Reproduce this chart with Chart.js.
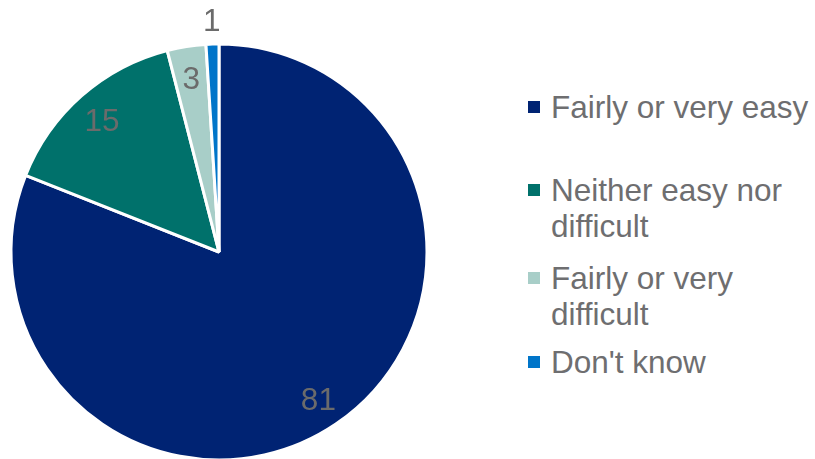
<!DOCTYPE html>
<html>

<head>
    <meta charset="utf-8">
    <title>Ease</title>
    <style>
        html, body { margin: 0; padding: 0; background: #fff; overflow: hidden; }
        body { width: 815px; height: 459px; position: relative; font-family: "Liberation Sans", Arial, sans-serif; }
        #wrap { position: absolute; left: 0; top: 0; width: 438px; height: 504px; }
        #legend { position: absolute; left: 528px; top: 0; }
        .item { position: absolute; left: 0; white-space: nowrap; }
        .box { position: absolute; left: 0; width: 12px; height: 12px; }
        .txt { position: absolute; left: 23px; top: 0; font-size: 31.5px; line-height: 36px; color: #6e6e70; }
    </style>
</head>

<body>
    <div id="wrap"><canvas id="myChart1"></canvas></div>
    <div id="legend"></div>
    <script src="https://cdn.jsdelivr.net/npm/chart.js@4.4.6/dist/chart.umd.min.js"></script>
    <script>
        const categories = ["Fairly or very easy", "Neither easy nor difficult", "Fairly or very difficult", "Don't know"]
        const legendLines = [["Fairly or very easy"], ["Neither easy nor", "difficult"], ["Fairly or very", "difficult"], ["Don't know"]]
        const values = [81, 15, 3, 1]
        const colors = ["#002373", "#00716b", "#a8cec8", "#0075c9"]

        document.addEventListener("DOMContentLoaded", () => {
            // value labels, placed from the arcs the library laid out
            const valueLabels = {
                id: "valueLabels",
                afterDatasetsDraw(chart) {
                    const ctx = chart.ctx
                    const meta = chart.getDatasetMeta(0)
                    ctx.save()
                    ctx.font = "31.5px 'Liberation Sans', Arial, sans-serif"
                    ctx.fillStyle = "#6b6b6b"
                    ctx.textAlign = "center"
                    ctx.textBaseline = "middle"
                    meta.data.forEach((arc, i) => {
                        const p = arc.getProps(["x", "y", "startAngle", "endAngle", "outerRadius"], true)
                        const mid = (p.startAngle + p.endAngle) / 2
                        const k = i === meta.data.length - 1 ? 1.12 : 0.85
                        const r = p.outerRadius * k
                        ctx.fillText(String(chart.data.datasets[0].data[i]), p.x + Math.cos(mid) * r, p.y + Math.sin(mid) * r + 3)
                    })
                    ctx.restore()
                },
            }

            new Chart(document.getElementById("myChart1"), {
                type: "pie",
                data: {
                    labels: categories,
                    datasets: [{
                        data: values,
                        backgroundColor: colors,
                        borderColor: "#ffffff",
                        borderWidth: 3,
                    }],
                },
                options: {
                    responsive: true,
                    maintainAspectRatio: false,
                    animation: false,
                    radius: 208,
                    plugins: {
                        legend: { display: false },
                        tooltip: { enabled: false },
                    },
                },
                plugins: [valueLabels],
            })

            // legend on the right
            const legend = document.getElementById("legend")
            const tops = [89, 172, 260, 344]
            legendLines.forEach((lines, i) => {
                const item = document.createElement("div")
                item.className = "item"
                item.style.top = tops[i] + "px"
                const box = document.createElement("div")
                box.className = "box"
                box.style.background = colors[i]
                box.style.top = "12px"
                const txt = document.createElement("div")
                txt.className = "txt"
                txt.innerHTML = lines.join("<br>")
                item.appendChild(box)
                item.appendChild(txt)
                legend.appendChild(item)
            })
        })
    </script>
</body>

</html>
